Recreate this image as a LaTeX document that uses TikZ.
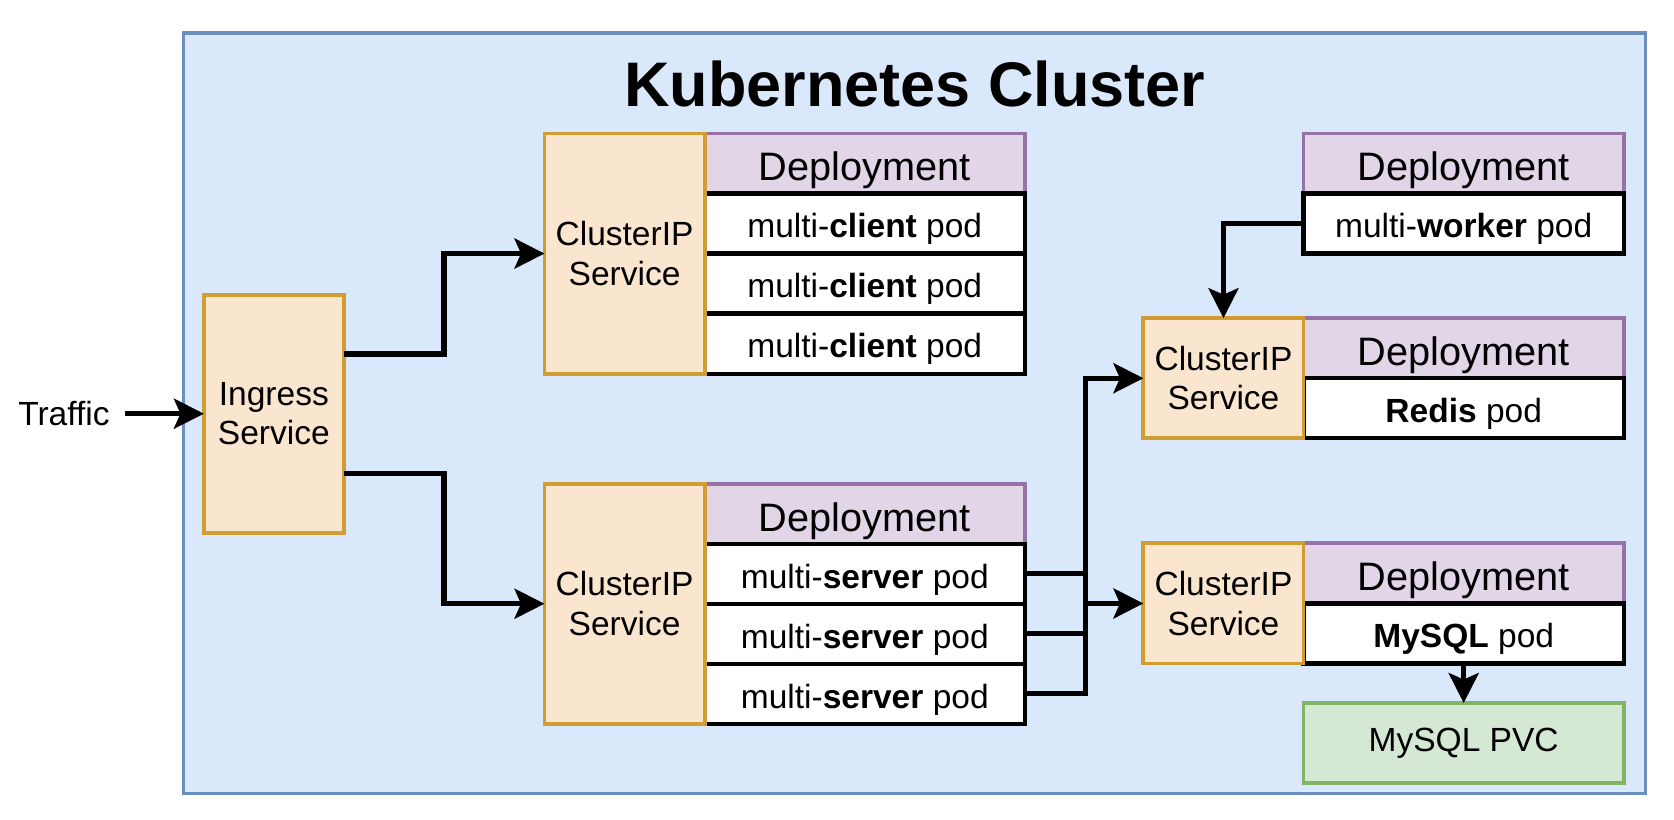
\documentclass[tikz,border=0pt]{standalone}
\usepackage{fontspec}
\setmainfont{Liberation Sans}
\usetikzlibrary{positioning,arrows.meta}
\definecolor{clusterfill}{HTML}{DAE8FC}
\definecolor{clusterline}{HTML}{6C8EBF}
\definecolor{svcfill}{HTML}{FAE6CF}
\definecolor{svcline}{HTML}{D09C34}
\definecolor{depfill}{HTML}{E1D5E7}
\definecolor{depline}{HTML}{9673A6}
\definecolor{pvcfill}{HTML}{D5E8D4}
\definecolor{pvcline}{HTML}{82B366}
\newcommand{\txtsize}{\fontsize{15.7}{18.5}\selectfont}
\newcommand{\depsize}{\fontsize{18.6}{22}\selectfont}

\begin{document}
\begin{tikzpicture}[x=1pt, y=1pt,
        box/.style={draw, line width=1.8pt, outer sep=0pt, inner sep=0pt, font=\txtsize, align=center},
        svc/.style={box, draw=svcline, fill=svcfill, minimum width=75pt},
        dep/.style={box, draw=depline, fill=depfill, minimum width=150pt, minimum height=28.125pt,
            font=\depsize, text height=16.3pt, text depth=0pt},
        pod/.style={box, draw=black, line width=2pt, fill=white, minimum width=150pt, minimum height=28.125pt,
            text height=13.4pt, text depth=0pt},
        conn/.style={line width=2.5pt},
        arr/.style={conn, -{Stealth[length=14pt, width=14pt, inset=3pt]}}
    ]
        \useasboundingbox (0,0) rectangle (784,384);
        \draw[clusterline, fill=clusterfill, line width=1.5pt] (86,12.5) rectangle (770.5,368.5);
        \node[anchor=base, font=\bfseries\fontsize{29.5}{34}\selectfont] (title) at (428.5,334) {Kubernetes Cluster};

        \node[svc, minimum width=65.5pt, minimum height=111.5pt] (ing) at (128.25,190.25) {Ingress\\Service};
        \node[left=37pt of ing, font=\txtsize, inner xsep=7pt] (trf) {Traffic};

        \node[dep, anchor=north west] (cd) at (330,321.5) {Deployment};
        \node[pod, below=0pt of cd] (c1) {multi-\textbf{client} pod};
        \node[pod, below=0pt of c1] (c2) {multi-\textbf{client} pod};
        \node[pod, below=0pt of c2] (c3) {multi-\textbf{client} pod};
        \node[svc, anchor=north east, minimum height=112.5pt] (cs) at (cd.north west) {ClusterIP\\Service};

        \node[dep, anchor=north west] (sd) at (330,157.5) {Deployment};
        \node[pod, below=0pt of sd] (s1) {multi-\textbf{server} pod};
        \node[pod, below=0pt of s1] (s2) {multi-\textbf{server} pod};
        \node[pod, below=0pt of s2] (s3) {multi-\textbf{server} pod};
        \node[svc, anchor=north east, minimum height=112.5pt] (ss) at (sd.north west) {ClusterIP\\Service};

        \node[dep, anchor=north west] (wd) at (610.5,321.5) {Deployment};
        \node[pod, below=0pt of wd] (w1) {multi-\textbf{worker} pod};

        \node[dep, anchor=north west] (rd) at (610.5,235) {Deployment};
        \node[pod, below=0pt of rd] (r1) {\textbf{Redis} pod};
        \node[svc, anchor=north east, minimum height=56.25pt] (rs) at (rd.north west) {ClusterIP\\Service};

        \node[dep, anchor=north west] (md) at (610.5,129.5) {Deployment};
        \node[pod, below=0pt of md] (m1) {\textbf{MySQL} pod};
        \node[svc, anchor=north east, minimum height=56.25pt] (ms) at (md.north west) {ClusterIP\\Service};
        \node[box, draw=pvcline, fill=pvcfill, minimum width=150pt, minimum height=37.5pt, below=18.5pt of m1] (pvc) {MySQL PVC};

        \draw[arr] (trf) -- (ing);
        \draw[arr] ([yshift=28pt]ing.east) -- ++(47pt,0) |- (cs);
        \draw[arr] ([yshift=-28pt]ing.east) -- ++(47pt,0) |- (ss);

        \coordinate (bus) at (508.5,0);
        \foreach \p in {s1,s2}
            \draw[conn] (\p.east) -- (\p.east -| bus);
        \draw[arr] (s3.east) -| (bus |- rs) -- (rs);
        \draw[arr] (ms.west -| bus) -- (ms);
        \draw[arr] (w1.west) -| (rs);
        \draw[arr] (m1) -- (pvc);
\end{tikzpicture}
\end{document}
